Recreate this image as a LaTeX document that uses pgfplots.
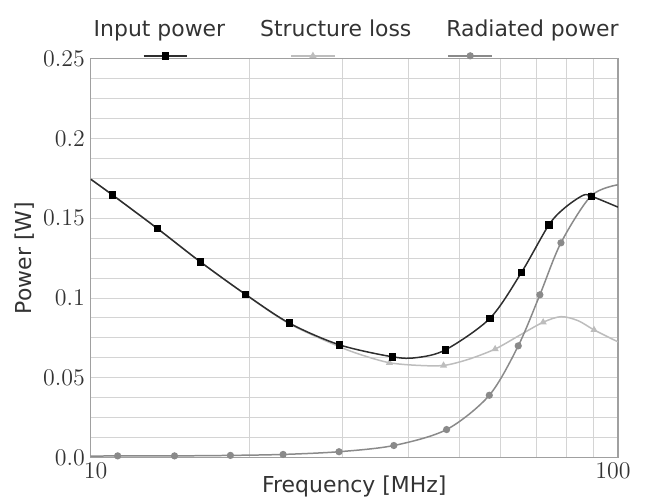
\documentclass[border=0pt]{standalone}
\usepackage{pgfplots}
\pgfplotsset{compat=1.18}
\usepackage{fontspec}
\setmainfont{DejaVu Sans}
\newcommand\lgfont{\fontsize{13.2}{15}\selectfont}
\newcommand\tkfont{\fontsize{13.6}{16}\selectfont}
\definecolor{inputc}{HTML}{2E2E2E}
\definecolor{structc}{HTML}{BDBDBD}
\definecolor{radc}{HTML}{8A8A8A}
\definecolor{gridc}{HTML}{D4D4D4}
\definecolor{framec}{HTML}{A0A0A0}
\definecolor{txtc}{HTML}{333333}
\begin{document}
\begin{tikzpicture}
\begin{axis}[
  scale only axis, width=317.4pt, height=240pt,
  xmode=log, xmin=10, xmax=100, ymin=0, ymax=0.25,
  xtick={10,100}, xticklabels={\hspace*{6pt}$10$,$100$\hspace*{6pt}},
  minor xtick={20,30,40,50,60,70,80,90},
  ytick={0,0.05,0.1,0.15,0.2,0.25},
  yticklabels={$0.0$,$0.05$,$0.1$,$0.15$,$0.2$,$0.25$},
  minor y tick num=3,
  grid=both,
  major grid style={gridc, line width=0.6pt},
  minor grid style={gridc, line width=0.6pt},
  axis line style={framec, line width=0.8pt},
  tick style={draw=none},
  tick label style={font=\tkfont, text=txtc},
  xlabel={Frequency [MHz]}, ylabel={Power [W]},
  label style={font=\lgfont, text=txtc},
  xlabel style={at={(axis description cs:0.5,-0.0725)}, anchor=center},
  ylabel style={at={(axis description cs:-0.125,0.5)}, anchor=center, rotate=0},
  legend columns=3,
  legend style={at={(axis description cs:0.0057,1.0)}, anchor=south west,
    draw=none, fill=none, inner sep=0pt, outer sep=0pt,
    nodes={inner sep=0pt, outer sep=0pt},
    /tikz/every even column/.append style={column sep=20pt}},
]
% legend images (text above sample line, as in the reference)
\addlegendimage{legend image code/.code={
  \node[anchor=base west, inner sep=0pt, font=\lgfont, text=txtc] at (0pt,11.5pt) {Input power};
  \draw[inputc, line width=0.9pt, mark=square*, mark size=1.8pt, mark options={fill=black, draw=black}, mark repeat=2, mark phase=2]
     plot coordinates {(30pt,0pt) (43.2pt,0pt) (56.4pt,0pt)};}}
\addlegendentry{}
\addlegendimage{legend image code/.code={
  \node[anchor=base west, inner sep=0pt, font=\lgfont, text=txtc] at (0pt,11.5pt) {Structure loss};
  \draw[structc, line width=0.9pt, mark=triangle*, mark size=1.6pt, mark options={fill=structc, draw=structc}, mark repeat=2, mark phase=2]
     plot coordinates {(18.6pt,0pt) (31.8pt,0pt) (45pt,0pt)};}}
\addlegendentry{}
\addlegendimage{legend image code/.code={
  \node[anchor=base west, inner sep=0pt, font=\lgfont, text=txtc] at (0pt,11.5pt) {Radiated power};
  \draw[radc, line width=0.9pt, mark=*, mark size=1.7pt, mark options={fill=radc, draw=radc}, mark repeat=2, mark phase=2]
     plot coordinates {(1.2pt,0pt) (14.4pt,0pt) (27.6pt,0pt)};}}
\addlegendentry{}

% Structure loss
\addplot[forget plot, structc, line width=0.9pt, smooth, tension=0.5,
  mark=triangle*, mark size=1.6pt, mark options={fill=structc, draw=structc},
  mark indices={9,11,13,15,18}] coordinates {
  (10,0.1745) (11.0,0.1646) (13.39,0.1435) (16.14,0.1227) (19.66,0.1022)
  (23.82,0.0838) (29.66,0.0694) (33.0,0.0638) (36.87,0.0594) (41.5,0.0578)
  (46.69,0.0577) (52.0,0.0615) (58.5,0.0680) (65.0,0.0765) (72.15,0.0848)
  (78.0,0.0883) (84.0,0.0858) (90.1,0.0800) (100,0.0725)
};
% Radiated power
\addplot[forget plot, radc, line width=0.9pt, smooth, tension=0.5,
  mark=*, mark size=1.7pt, mark options={fill=radc, draw=radc},
  mark indices={2,3,4,5,6,7,8,9,10,11,12,13}] coordinates {
  (10,0.0008) (11.25,0.0010) (14.42,0.0010) (18.41,0.0013) (23.17,0.0019)
  (29.58,0.0036) (37.58,0.0075) (47.32,0.0175) (57.02,0.0390) (64.71,0.0700)
  (71.12,0.1020) (77.98,0.1346) (88.92,0.1640) (100,0.1710)
};
% Input power
\addplot[forget plot, inputc, line width=0.9pt, smooth, tension=0.5,
  mark=square*, mark size=1.8pt, mark options={fill=black, draw=black},
  mark indices={2,3,4,5,6,7,8,10,11,12,13,16}] coordinates {
  (10,0.1745) (11.00,0.1646) (13.39,0.1435) (16.14,0.1227) (19.66,0.1023)
  (23.82,0.0842) (29.66,0.0706) (37.39,0.0631) (41.5,0.0626) (47.10,0.0675)
  (57.2,0.0873) (65.64,0.1161) (73.96,0.1458) (79.4,0.1567) (85.9,0.1644)
  (89.08,0.1638) (100,0.1570)
};
\end{axis}
\path ([shift={(-54.6pt,-25.8pt)}]current axis.south west) rectangle ([shift={(15.6pt,35.4pt)}]current axis.north east);
\end{tikzpicture}
\end{document}
